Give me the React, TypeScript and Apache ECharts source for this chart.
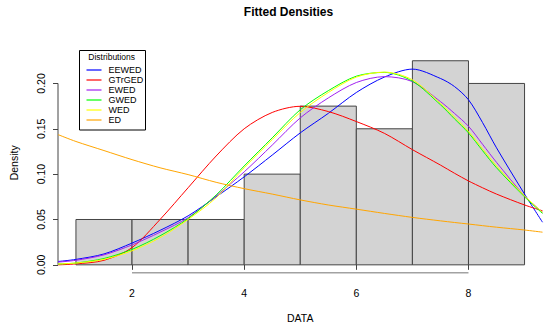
import React, { useEffect, useRef } from "react";
import * as echarts from "echarts";

const binEdges = [1, 2, 3, 4, 5, 6, 7, 8, 9];
const binDensity = [0.05, 0.05, 0.05, 0.1, 0.175, 0.15, 0.225, 0.2];

const xGrid = [0.68, 1, 1.5, 2, 2.5, 3, 3.5, 4, 4.5, 5, 5.5, 6, 6.5, 7, 7.5, 7.75, 8, 8.25, 8.5, 9, 9.32];
const eewed = [0.0037, 0.006, 0.012, 0.024, 0.038, 0.054, 0.075, 0.097, 0.121, 0.1455, 0.167, 0.19, 0.207, 0.2158, 0.2055, 0.1966, 0.182, 0.157, 0.129, 0.078, 0.047];
const gtrged = [0.0, 0.001, 0.005, 0.019, 0.05, 0.085, 0.12, 0.15, 0.168, 0.1748, 0.169, 0.158, 0.145, 0.127, 0.11, 0.101, 0.0925, 0.085, 0.078, 0.066, 0.0596];
const ewed = [0.003, 0.005, 0.011, 0.022, 0.036, 0.052, 0.076, 0.1025, 0.132, 0.162, 0.184, 0.201, 0.2075, 0.202, 0.18, 0.167, 0.1528, 0.133, 0.113, 0.076, 0.058];
const gwed = [0.001, 0.002, 0.007, 0.017, 0.032, 0.051, 0.077, 0.109, 0.14, 0.171, 0.192, 0.208, 0.2122, 0.2025, 0.1765, 0.161, 0.1455, 0.126, 0.107, 0.075, 0.0567];
const wed = [0.001, 0.002, 0.006, 0.0155, 0.03, 0.05, 0.074, 0.107, 0.138, 0.168, 0.19, 0.207, 0.2125, 0.204, 0.178, 0.163, 0.147, 0.128, 0.109, 0.076, 0.058];
const ed = [0.1436, 0.136, 0.126, 0.116, 0.107, 0.0995, 0.091, 0.084, 0.078, 0.0716, 0.066, 0.0614, 0.0567, 0.0523, 0.0485, 0.0467, 0.045, 0.0432, 0.0415, 0.0384, 0.036];

const seriesNames = ["EEWED", "GTrGED", "EWED", "GWED", "WED", "ED"];
const seriesColors = ["#0000FF", "#FF0000", "#A020F0", "#00FF00", "#FFFF00", "#FFA500"];
const seriesValues = [eewed, gtrged, ewed, gwed, wed, ed];

const xTicks = [2, 4, 6, 8];
const yTicks = [0, 0.05, 0.1, 0.15, 0.2];
const xMin = 0.68;
const xMax = 9.32;
const yMin = -0.009;
const yMax = 0.234;

const FONT = "Liberation Sans, Arial, Helvetica, sans-serif";

export default function App() {
  const ref = useRef<HTMLDivElement>(null);
  useEffect(() => {
    document.body.style.margin = "0";
    const chart = echarts.init(ref.current!, null, { renderer: "svg" });
    const histData = binDensity.map((d, i) => [binEdges[i], binEdges[i + 1], d]);
    const curves = seriesNames.map((name, k) => ({
      name,
      type: "line",
      data: xGrid.map((x, i) => [x, seriesValues[k][i]]),
      smooth: 0.3,
      showSymbol: false,
      symbol: "none",
      color: seriesColors[k],
      lineStyle: { color: seriesColors[k], width: 1 },
      z: 3,
    }));
    chart.setOption({
      animation: false,
      backgroundColor: "#ffffff",
      textStyle: { fontFamily: FONT },
      title: {
        text: "Fitted Densities",
        left: 283.5,
        top: 1,
        textAlign: "center",
        textStyle: { fontFamily: FONT, fontSize: 12, fontWeight: "bold", color: "#000" },
      },
      grid: { left: 54.8, right: 7.5, top: 52.6, bottom: 53.8 },
      legend: {
        data: seriesNames,
        orient: "vertical",
        left: 81.5,
        top: 60,
        z: 20,
        icon: "rect",
        itemWidth: 15,
        itemHeight: 1.2,
        itemGap: 0,
        textStyle: { fontFamily: FONT, fontSize: 9, color: "#000", lineHeight: 10, padding: [0, 0, 0, 2] },
      },
      graphic: [
        {
          type: "rect",
          shape: { x: 79.5, y: 50.5, width: 66, height: 79.5 },
          style: { fill: "#fff", stroke: "#000", lineWidth: 1 },
          z: 5,
        },
        {
          type: "text",
          x: 111.7,
          y: 56.7,
          style: {
            text: "Distributions",
            fontFamily: FONT,
            fontSize: 8.5,
            fill: "#000",
            align: "center",
            verticalAlign: "middle",
          },
          z: 6,
        },
      ],
      xAxis: {
        type: "value",
        min: xMin,
        max: xMax,
        name: "DATA",
        nameLocation: "middle",
        nameGap: 39,
        nameTextStyle: { fontFamily: FONT, fontSize: 10.5, color: "#000" },
        axisLine: { show: false },
        axisTick: { show: true, customValues: xTicks, length: 5, lineStyle: { color: "#444" } },
        axisLabel: {
          customValues: xTicks,
          margin: 14,
          fontFamily: FONT,
          fontSize: 10.5,
          color: "#000",
          formatter: (v: number) => String(v),
        },
        splitLine: { show: false },
      },
      yAxis: {
        type: "value",
        min: yMin,
        max: yMax,
        name: "Density",
        nameLocation: "middle",
        nameGap: 39,
        nameRotate: 90,
        nameTextStyle: { fontFamily: FONT, fontSize: 10.5, color: "#000" },
        axisLine: { show: false },
        axisTick: { show: true, customValues: yTicks, length: 5, lineStyle: { color: "#444" } },
        axisLabel: {
          customValues: yTicks,
          rotate: 90,
          margin: 12,
          fontFamily: FONT,
          fontSize: 10.5,
          color: "#000",
          formatter: (v: number) => v.toFixed(2),
        },
        splitLine: { show: false },
      },
      series: [
        {
          name: "hist",
          type: "custom",
          data: histData,
          z: 1,
          renderItem: (params: any, api: any) => {
            const p0 = api.coord([api.value(0), api.value(2)]);
            const p1 = api.coord([api.value(1), 0]);
            return {
              type: "rect",
              shape: { x: p0[0], y: p0[1], width: p1[0] - p0[0], height: p1[1] - p0[1] },
              style: { fill: "#D3D3D3", stroke: "#444", lineWidth: 1 },
            };
          },
        },
        {
          name: "xaxisline",
          type: "line",
          data: [
            [xTicks[0], yMin],
            [xTicks[xTicks.length - 1], yMin],
          ],
          showSymbol: false,
          symbol: "none",
          lineStyle: { color: "#444", width: 1 },
          silent: true,
          z: 2,
        },
        {
          name: "yaxisline",
          type: "line",
          data: [
            [xMin, yTicks[0]],
            [xMin, yTicks[yTicks.length - 1]],
          ],
          showSymbol: false,
          symbol: "none",
          lineStyle: { color: "#444", width: 1 },
          silent: true,
          z: 2,
        },
        ...curves,
      ],
    });
    return () => chart.dispose();
  }, []);
  return <div ref={ref} style={{ width: 550, height: 328 }} />;
}
